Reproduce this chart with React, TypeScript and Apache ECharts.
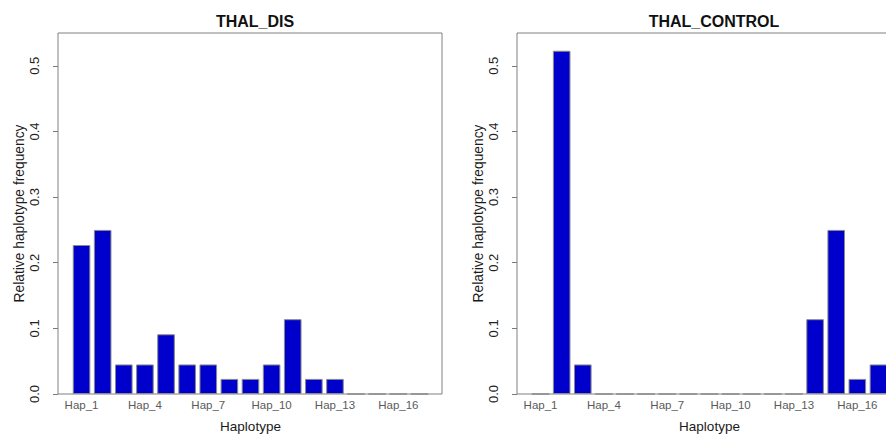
import React, { useEffect, useRef } from "react";
import * as echarts from "echarts";

const categories = [
  "Hap_1", "Hap_2", "Hap_3", "Hap_4", "Hap_5", "Hap_6", "Hap_7", "Hap_8", "Hap_9",
  "Hap_10", "Hap_11", "Hap_12", "Hap_13", "Hap_14", "Hap_15", "Hap_16", "Hap_17",
];
const thalDis = [0.227, 0.25, 0.045, 0.045, 0.091, 0.045, 0.045, 0.023, 0.023, 0.045, 0.114, 0.023, 0.023, 0, 0, 0, 0];
const thalControl = [0, 0.523, 0.045, 0, 0, 0, 0, 0, 0, 0, 0, 0, 0, 0.114, 0.25, 0.023, 0.045];
const yTicks = [0, 0.1, 0.2, 0.3, 0.4, 0.5];
const panelTitles = ["THAL_DIS", "THAL_CONTROL"];
const panelSeries = [thalDis, thalControl];

const FONT = "'Liberation Sans', Arial, sans-serif";

export default function App() {
  const ref = useRef<HTMLDivElement>(null);
  useEffect(() => {
    if (!ref.current) return;
    const chart = echarts.init(ref.current, undefined, { renderer: "svg" });
    const boxLefts = [58, 517];
    const boxTop = 33;
    const boxW = 384;
    const boxH = 361;
    const inset = 13;
    const dataW = 359;

    const grids = boxLefts.map((bl) => ({
      left: bl + inset,
      top: boxTop,
      width: dataW,
      height: boxH,
      containLabel: false,
      outerBoundsMode: "none",
    }));
    const xAxes = boxLefts.map((_, i) => ({
      type: "category",
      gridIndex: i,
      data: categories,
      axisLine: { show: false },
      axisTick: { show: false },
      axisLabel: {
        interval: 2,
        color: "#5a5a5a",
        fontSize: 11.5,
        fontFamily: FONT,
        margin: 5,
      },
      name: "Haplotype",
      nameLocation: "middle",
      nameGap: 25.5,
      nameTextStyle: { color: "#1a1a1a", fontSize: 13.5, fontFamily: FONT },
    }));
    const yAxes = boxLefts.map((_, i) => ({
      type: "value",
      gridIndex: i,
      min: 0,
      max: 0.55,
      offset: inset,
      splitLine: { show: false },
      axisLine: { show: false },
      axisTick: {
        show: true,
        length: 5,
        inside: false,
        customValues: yTicks,
        lineStyle: { color: "#7a7a7a", width: 1 },
      },
      axisLabel: {
        customValues: yTicks,
        rotate: 90,
        margin: 17,
        color: "#222",
        fontSize: 13,
        fontFamily: FONT,
        formatter: (v: number) => v.toFixed(1),
      },
      name: "Relative haplotype frequency",
      nameLocation: "middle",
      nameGap: 32,
      nameRotate: 90,
      nameTextStyle: { color: "#1a1a1a", fontSize: 13.8, fontFamily: FONT },
    }));
    const series = panelSeries.map((data, i) => ({
      type: "bar",
      xAxisIndex: i,
      yAxisIndex: i,
      data,
      barWidth: 17.6,
      itemStyle: { color: "#0000CC", borderColor: "#8a8a8a", borderWidth: 1 },
      silent: true,
    }));
    const titles = panelTitles.map((t, i) => ({
      text: t,
      left: boxLefts[i] + boxW / 2,
      top: 8,
      textAlign: "center",
      textStyle: { fontSize: 16, fontWeight: "bold", color: "#111", fontFamily: FONT },
    }));
    const frames = boxLefts.map((bl) => ({
      type: "rect",
      z: 0,
      shape: { x: bl, y: boxTop, width: boxW, height: boxH },
      style: { fill: "none", stroke: "#808080", lineWidth: 1 },
      silent: true,
    }));

    chart.setOption({
      animation: false,
      backgroundColor: "#ffffff",
      title: titles,
      grid: grids,
      xAxis: xAxes,
      yAxis: yAxes,
      series,
      graphic: frames,
    });
    return () => chart.dispose();
  }, []);
  return (
    <div
      ref={ref}
      style={{ position: "fixed", left: 0, top: 0, width: 886, height: 434, background: "#fff" }}
    />
  );
}
